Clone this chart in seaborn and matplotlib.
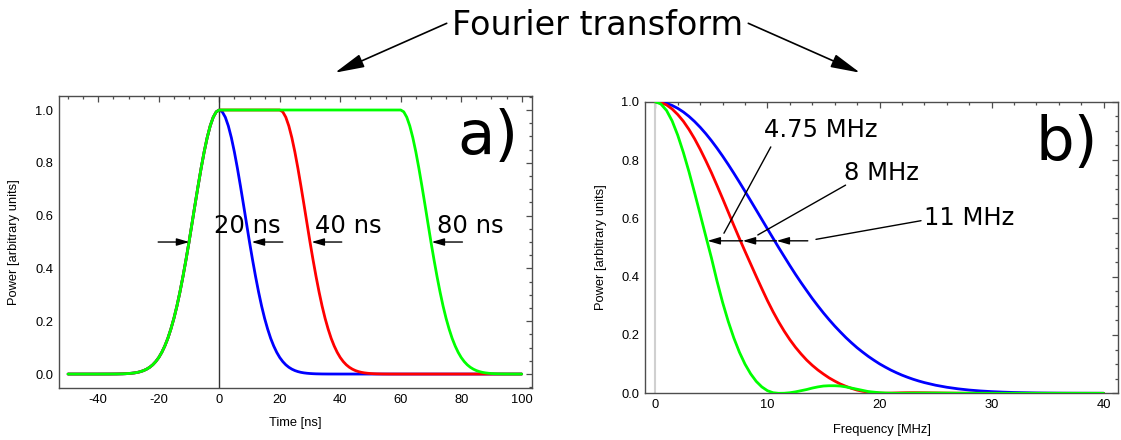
import matplotlib
matplotlib.use("Agg")
import matplotlib.pyplot as plt
from matplotlib.ticker import MultipleLocator, FormatStrFormatter
import pandas as pd
import seaborn as sns

# ---------------- data ----------------
# a) pulse power envelopes in the time domain.
# All three pulses share the same smooth edge; the edge profile is listed once
# (power versus distance from the plateau, in ns) and each pulse has its own plateau.
edge_offset_ns = [0, 1, 2, 3, 4, 5, 6, 7, 8, 9, 10, 11, 12, 13, 14, 15, 16, 17, 18, 19,
                  20, 21, 22, 23, 24, 25, 26, 27, 28, 29, 30, 31, 32, 34, 36, 40]
edge_power = [1.0000, 0.9931, 0.9727, 0.9396, 0.8951, 0.8411, 0.7794, 0.7123, 0.6424,
              0.5710, 0.5000, 0.4330, 0.3695, 0.3108, 0.2575, 0.2107, 0.1703, 0.1352,
              0.1063, 0.0822, 0.0626, 0.0472, 0.0350, 0.0257, 0.0186, 0.0132, 0.0093,
              0.0064, 0.0044, 0.0030, 0.0020, 0.0013, 0.0008, 0.0003, 0.0001, 0.0]

pulse_names = ["20 ns", "40 ns", "80 ns"]
plateau_start_ns = 0
plateau_end_ns = [0, 20, 60]
time_start_ns, time_end_ns = -50, 100

# b) power spectra of the three pulses
freq_mhz = [0, 0.5, 1, 1.5, 2, 2.5, 3, 3.5, 4, 4.5, 5, 5.5, 6, 6.5, 7, 7.5, 8, 8.5, 9,
            9.5, 10, 10.5, 11, 11.5, 12, 12.5, 13, 13.5, 14, 14.5, 15, 15.5, 16, 16.5,
            17, 17.5, 18, 18.5, 19, 19.5, 20, 20.5, 21, 21.5, 22, 22.5, 23, 23.5, 24,
            25, 26, 27, 28, 29, 30, 31, 32, 33, 34, 35, 36, 37, 38, 39, 40]

spec_20ns = [1.0, 0.9986, 0.9943, 0.9872, 0.9773, 0.9648, 0.9497, 0.9322, 0.9124, 0.8905,
             0.8666, 0.8409, 0.8136, 0.7849, 0.7550, 0.7242, 0.6927, 0.6608, 0.6286,
             0.5963, 0.5640, 0.5320, 0.5000, 0.4690, 0.4381, 0.4082, 0.3796, 0.3522,
             0.3251, 0.2999, 0.2755, 0.2526, 0.2308, 0.2106, 0.1911, 0.1732, 0.1563,
             0.1411, 0.1266, 0.1135, 0.1011, 0.0902, 0.0799, 0.0708, 0.0624, 0.0550,
             0.0482, 0.0422, 0.0368,
             0.0278, 0.0208, 0.0154, 0.0112, 0.0081, 0.0058, 0.0041, 0.0028, 0.0020,
             0.0013, 0.0009, 0.0006, 0.0004, 0.0003, 0.0002, 0.0001]

spec_40ns = [1.000, 0.997, 0.989, 0.975, 0.956, 0.933, 0.905, 0.873, 0.837, 0.798, 0.757,
             0.713, 0.668, 0.622, 0.576, 0.531, 0.487, 0.444, 0.401, 0.359, 0.318, 0.280,
             0.245, 0.213, 0.184, 0.158, 0.135, 0.114, 0.096, 0.080, 0.066, 0.053, 0.042,
             0.032, 0.024, 0.017, 0.011, 0.007, 0.004, 0.002, 0.001, 0.0005, 0.0008,
             0.0013, 0.0018, 0.0021, 0.0022, 0.0021, 0.0019,
             0.0014, 0.0009, 0.0005, 0.0003, 0.0002, 0.0001, 0, 0, 0, 0, 0, 0, 0, 0, 0, 0]

spec_80ns = [1.000, 0.992, 0.970, 0.934, 0.885, 0.826, 0.760, 0.688, 0.614, 0.539, 0.465,
             0.385, 0.312, 0.247, 0.190, 0.141, 0.100, 0.067, 0.041, 0.022, 0.009, 0.002,
             0.0, 0.0003, 0.002, 0.005, 0.009, 0.013, 0.018, 0.022, 0.025, 0.026, 0.026,
             0.025, 0.022, 0.018, 0.014, 0.010, 0.006, 0.004, 0.002, 0.001, 0.0003,
             0.0001, 0.0002, 0.0004, 0.0006, 0.0008, 0.0009,
             0.0009, 0.0007, 0.0004, 0.0002, 0.0001, 0, 0, 0, 0, 0, 0, 0, 0, 0, 0, 0]

pulse_colors = {"20 ns": "#0000ff", "40 ns": "#ff0000", "80 ns": "#00ff00"}

# assemble each pulse: leading edge, flat top, trailing edge
rows = []
for name, t_end in zip(pulse_names, plateau_end_ns):
    ts = [time_start_ns] + [plateau_start_ns - d for d in reversed(edge_offset_ns)]
    ps = [0.0] + list(reversed(edge_power))
    ts += [t_end + d for d in edge_offset_ns] + [time_end_ns]
    ps += list(edge_power) + [0.0]
    rows += [(t, p, name) for t, p in zip(ts, ps)]
time_df = pd.DataFrame(rows, columns=["Time", "Power", "pulse"])

freq_df = pd.DataFrame({
    "Frequency": freq_mhz * 3,
    "Power": spec_20ns + spec_40ns + spec_80ns,
    "pulse": [n for n in pulse_names for _ in freq_mhz],
})

# ---------------- style ----------------
sns.set_style("white")
plt.rcParams["font.family"] = ["DejaVu Sans"]
plt.rcParams.update({"text.color": "black", "axes.labelcolor": "black",
                     "xtick.color": "black", "ytick.color": "black"})
TICK_FONT = "Liberation Sans"
FRAME = "#4d4d4d"

fig = plt.figure(figsize=(11.21, 4.40), dpi=100)
ax_t = fig.add_axes([0.0526, 0.1175, 0.4217, 0.6643])
ax_f = fig.add_axes([0.5754, 0.1061, 0.4219, 0.6627])


def frame_axes(ax, xmaj, xmin, xfmt):
    for sp in ax.spines.values():
        sp.set_visible(True)
        sp.set_color(FRAME)
        sp.set_linewidth(1.0)
    ax.xaxis.set_major_locator(MultipleLocator(xmaj))
    ax.xaxis.set_minor_locator(MultipleLocator(xmin))
    ax.yaxis.set_major_locator(MultipleLocator(0.2))
    ax.yaxis.set_minor_locator(MultipleLocator(0.05))
    ax.xaxis.set_major_formatter(FormatStrFormatter(xfmt))
    ax.yaxis.set_major_formatter(FormatStrFormatter("%.1f"))
    ax.tick_params(which="both", direction="in", top=True, right=True,
                   color=FRAME, width=0.9, labelcolor="black")
    ax.tick_params(which="major", length=4.5, pad=4, labelsize=9.3)
    ax.tick_params(which="minor", length=2.5)
    for lab in ax.get_xticklabels() + ax.get_yticklabels():
        lab.set_fontfamily(TICK_FONT)
    ax.grid(False)


# ---------------- a) time domain ----------------
ax_t.axvline(0, color="#333333", lw=1.0, zorder=1)
sns.lineplot(data=time_df, x="Time", y="Power", hue="pulse", palette=pulse_colors,
             hue_order=pulse_names, estimator=None, sort=False, legend=False,
             linewidth=2.0, ax=ax_t, zorder=3)
ax_t.set_xlim(-53.0, 103.3)
ax_t.set_ylim(-0.054, 1.053)
frame_axes(ax_t, 20, 5, "%d")
ax_t.set_xlabel("Time [ns]", fontsize=9.3, fontfamily=TICK_FONT)
ax_t.set_ylabel("Power [arbitrary units]", fontsize=9.3, fontfamily=TICK_FONT)
ax_t.xaxis.set_label_coords(0.5, -0.119)
ax_t.xaxis.label.set_va("center")
ax_t.yaxis.set_label_coords(-0.095, 0.5)
ax_t.yaxis.label.set_va("center")

arrow_small = dict(arrowstyle="-|>,head_length=0.75,head_width=0.22", color="black",
                   lw=1.0, shrinkA=0, shrinkB=0, mutation_scale=10)
for tail, tip in [(-20.2, -9.9), (21.0, 10.7), (40.5, 30.5), (80.4, 70.2)]:
    ax_t.annotate("", xy=(tip, 0.5), xytext=(tail, 0.5), arrowprops=arrow_small)
for name, xc in zip(pulse_names, [9.2, 42.7, 83.0]):
    ax_t.text(xc, 0.534, name, ha="center", va="baseline", fontsize=17.5)
ax_t.text(88.8, 0.832, "a)", ha="center", va="baseline", fontsize=44)

# ---------------- b) frequency domain ----------------
ax_f.axvline(0, color="#d0d0d0", lw=1.5, zorder=1)
sns.lineplot(data=freq_df, x="Frequency", y="Power", hue="pulse", palette=pulse_colors,
             hue_order=pulse_names, estimator=None, sort=False, legend=False,
             linewidth=2.0, ax=ax_f, zorder=3)
ax_f.set_xlim(-0.92, 41.27)
ax_f.set_ylim(0.0, 1.0)
frame_axes(ax_f, 10, 2, "%d")
ax_f.set_xlabel("Frequency [MHz]", fontsize=9.3, fontfamily=TICK_FONT)
ax_f.set_ylabel("Power [arbitrary units]", fontsize=9.3, fontfamily=TICK_FONT)
ax_f.xaxis.set_label_coords(0.5, -0.126)
ax_f.xaxis.label.set_va("center")
ax_f.yaxis.set_label_coords(-0.093, 0.5)
ax_f.yaxis.label.set_va("center")

# shared horizontal marker at half maximum with three arrowheads
half_y = 0.523
for tail, tip in [(13.6, 10.81), (10.81, 7.79), (7.79, 4.65)]:
    ax_f.annotate("", xy=(tip, half_y), xytext=(tail, half_y), arrowprops=arrow_small)

pointer = dict(color="black", lw=1.0)
ax_f.plot([6.12, 10.3], [0.549, 0.845], **pointer, zorder=4)
ax_f.plot([9.14, 16.97], [0.543, 0.714], **pointer, zorder=4)
ax_f.plot([14.33, 23.7], [0.528, 0.592], **pointer, zorder=4)
ax_f.text(14.78, 0.879, "4.75 MHz", ha="center", va="baseline", fontsize=17.5)
ax_f.text(20.2, 0.731, "8 MHz", ha="center", va="baseline", fontsize=17.5)
ax_f.text(27.98, 0.577, "11 MHz", ha="center", va="baseline", fontsize=17.5)
ax_f.text(36.7, 0.80, "b)", ha="center", va="baseline", fontsize=44)

# ---------------- heading with arrows to both panels ----------------
fig.text(597.5 / 1121, 1 - 35 / 440, "Fourier transform", ha="center", va="baseline",
         fontsize=24)
arrow_big = dict(arrowstyle="-|>,head_length=1.2,head_width=0.28", color="black",
                 lw=1.2, shrinkA=0, shrinkB=0, mutation_scale=15)
ax_t.annotate("", xy=(335, 440 - 72.7), xytext=(446.7, 440 - 23.3),
              xycoords="figure pixels", textcoords="figure pixels",
              arrowprops=arrow_big, annotation_clip=False)
ax_t.annotate("", xy=(860, 440 - 72.7), xytext=(748.3, 440 - 23.3),
              xycoords="figure pixels", textcoords="figure pixels",
              arrowprops=arrow_big, annotation_clip=False)

fig.savefig("out.png", dpi=100)
